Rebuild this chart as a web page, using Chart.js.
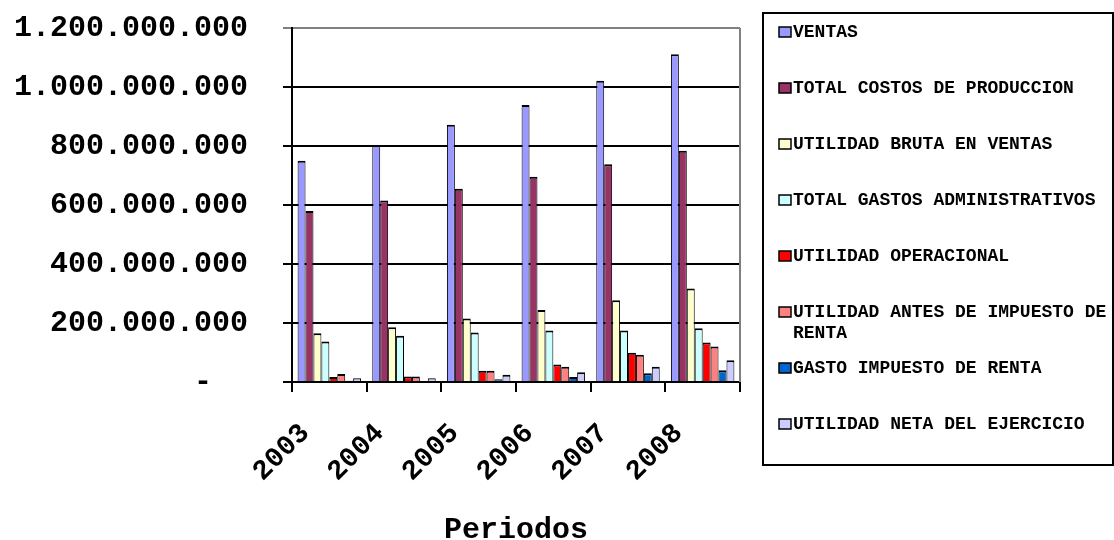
<!DOCTYPE html>
<html>
<head>
<meta charset="utf-8">
<title>Estado de resultados por periodo</title>
<script src="https://cdn.jsdelivr.net/npm/chart.js@4"></script>
<style>
  html, body { margin: 0; padding: 0; background: #ffffff; }
  #wrap { width: 1114px; height: 540px; }
</style>
</head>
<body>
<div id="wrap"><canvas id="chart" width="1114" height="540"></canvas></div>
<script>
// Periods on the category axis
const periodos = ['2003', '2004', '2005', '2006', '2007', '2008'];

// Income statement lines, in pesos
const ventas              = [750000000, 803000000, 872000000, 939000000, 1021000000, 1111000000];
const costosProduccion    = [580000000, 615000000, 655000000, 696000000, 738000000, 784000000];
const utilidadBruta       = [165000000, 186000000, 215000000, 244000000, 277000000, 317000000];
const gastosAdmin         = [137000000, 157000000, 168000000, 175000000, 175000000, 182000000];
const utilidadOperacional = [17000000, 19000000, 38000000, 59000000, 99000000, 134000000];
const utilidadAntesImp    = [27000000, 19000000, 38000000, 52000000, 92000000, 120000000];
const gastoImpuesto       = [4000000, 3000000, 9000000, 17000000, 30000000, 40000000];
const utilidadNeta        = [13000000, 13000000, 25000000, 33000000, 52000000, 74000000];

// Series names
const serieNombres = [
  'VENTAS',
  'TOTAL COSTOS DE PRODUCCION',
  'UTILIDAD BRUTA EN VENTAS',
  'TOTAL GASTOS ADMINISTRATIVOS',
  'UTILIDAD OPERACIONAL',
  'UTILIDAD ANTES DE IMPUESTO DE RENTA',
  'GASTO IMPUESTO DE RENTA',
  'UTILIDAD NETA DEL EJERCICIO'
];

// Value axis ticks
const ejeMin = 0;
const ejeMax = 1200000000;
const ejePaso = 200000000;

const FONT = "'Liberation Mono', 'Courier New', monospace";
const colores = ['#9999FF', '#993366', '#FFFFCC', '#CCFFFF', '#FF0000', '#FF8080', '#0066CC', '#CCCCFF'];
const series = [ventas, costosProduccion, utilidadBruta, gastosAdmin,
                utilidadOperacional, utilidadAntesImp, gastoImpuesto, utilidadNeta];

function miles(v) {
  return String(Math.round(v)).replace(/\B(?=(\d{3})+(?!\d))/g, '.');
}

// Grey frame on the right edge of the plot area
const marcoPlot = {
  id: 'marcoPlot',
  afterDatasetsDraw(chart) {
    const { ctx, chartArea: a } = chart;
    ctx.save();
    ctx.strokeStyle = '#808080';
    ctx.lineWidth = 2;
    ctx.beginPath();
    ctx.moveTo(a.right, a.top);
    ctx.lineTo(a.right, a.bottom);
    ctx.stroke();
    ctx.restore();
  }
};

// Boxed legend on the right with word-wrapped labels
const leyendaCaja = {
  id: 'leyendaCaja',
  afterDraw(chart) {
    const ctx = chart.ctx;
    const box = { left: 763, top: 13, right: 1113, bottom: 465 };
    ctx.save();
    ctx.strokeStyle = '#000000';
    ctx.lineWidth = 2;
    ctx.strokeRect(box.left, box.top, box.right - box.left, box.bottom - box.top);
    ctx.font = 'bold 18px ' + FONT;
    ctx.textBaseline = 'middle';
    ctx.textAlign = 'left';
    const textX = 793;
    const maxW = box.right - textX - 2;
    chart.data.datasets.forEach((ds, i) => {
      const cy = 32 + i * 56;
      // swatch
      ctx.fillStyle = ds.backgroundColor;
      ctx.fillRect(779, cy - 5, 12, 10);
      ctx.lineWidth = 1.5;
      ctx.strokeStyle = '#000000';
      ctx.strokeRect(779, cy - 5, 12, 10);
      // text, wrapped on words
      const words = ds.label.split(' ');
      const lines = [];
      let cur = '';
      words.forEach(w => {
        const t = cur ? cur + ' ' + w : w;
        if (ctx.measureText(t).width > maxW && cur) { lines.push(cur); cur = w; }
        else cur = t;
      });
      if (cur) lines.push(cur);
      ctx.fillStyle = '#000000';
      lines.forEach((ln, k) => ctx.fillText(ln, textX, cy + k * 21));
    });
    ctx.restore();
  }
};

// Adjacent bars share a thin outline, top edge a bit heavier
const datasets = series.map((d, i) => ({
  label: serieNombres[i],
  data: d,
  backgroundColor: colores[i],
  borderColor: '#000000',
  borderWidth: { top: 2, left: 1, right: 1, bottom: 0 },
  borderSkipped: false,
  barPercentage: 1,
  categoryPercentage: 0.85
}));

new Chart(document.getElementById('chart'), {
  type: 'bar',
  data: { labels: periodos, datasets },
  options: {
    responsive: false,
    animation: false,
    layout: { padding: { left: 14, right: 374, top: 28, bottom: 0 } },
    plugins: {
      legend: { display: false },
      tooltip: { enabled: false }
    },
    scales: {
      x: {
        afterFit(scale) {
          scale.height = 158;
          scale.paddingLeft = 0;
          scale.paddingRight = 0;
        },
        grid: {
          offset: true,
          drawOnChartArea: false,
          drawTicks: true,
          tickLength: 10,
          color: '#000000',
          lineWidth: 2
        },
        border: { color: '#000000', width: 2 },
        ticks: {
          color: '#000000',
          font: { family: FONT, size: 28, weight: 'bold' },
          minRotation: 45,
          maxRotation: 45,
          padding: 25,
          labelOffset: -24
        },
        title: {
          display: true,
          text: 'Periodos',
          color: '#000000',
          font: { family: FONT, size: 30, weight: 'bold', lineHeight: 0.62 },
          padding: 0
        }
      },
      y: {
        min: ejeMin,
        max: ejeMax,
        afterFit(scale) {
          scale.width = 278;
          scale.paddingTop = 0;
          scale.paddingBottom = 0;
        },
        grid: {
          color: ctx => (ctx.tick && ctx.tick.value === ejeMax ? '#808080' : '#000000'),
          lineWidth: 2,
          tickLength: 9,
          drawTicks: true
        },
        border: { color: '#000000', width: 2 },
        ticks: {
          stepSize: ejePaso,
          color: '#000000',
          padding: 35,
          font: { family: FONT, size: 30, weight: 'bold' },
          callback: v => (v === 0 ? '-  ' : miles(v))
        }
      }
    }
  },
  plugins: [marcoPlot, leyendaCaja]
});
</script>
</body>
</html>
